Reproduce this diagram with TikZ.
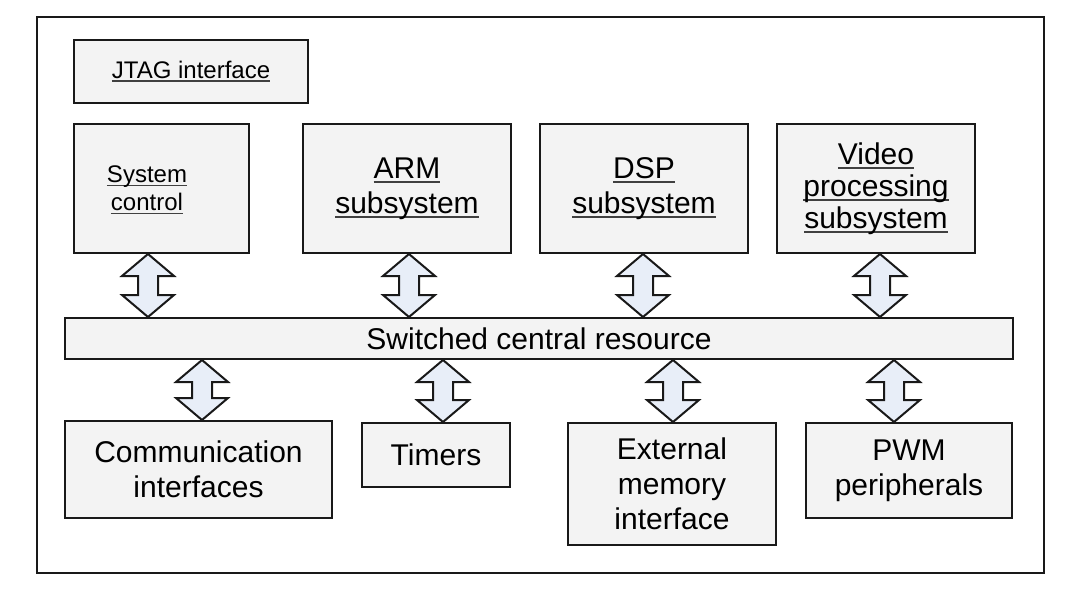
\documentclass[tikz,border=0pt]{standalone}
\usepackage{fontspec}
\setmainfont{Liberation Sans}
\usetikzlibrary{calc}

\definecolor{boxgray}{HTML}{F3F3F3}
\definecolor{arrowblue}{HTML}{E8EEF8}

% underline close to the baseline, as in the linked labels
\newcommand\ulink[1]{\setbox0=\hbox{#1}\rlap{\color{black!75}\vrule height -0.08em depth 0.15em width \wd0}\box0}

% fat two-headed arrow: x position, upper node, lower node
\newcommand\busarrow[3]{%
  \draw[fatarrow] let \p1=(#1,0 |- #2.south), \p2=(#1,0 |- #3.north) in
    (\x1,\y1) -- (\x1+13pt,\y1-11pt) -- (\x1+5pt,\y1-11pt) -- (\x1+5pt,\y2+11pt)
    -- (\x1+13pt,\y2+11pt) -- (\x2,\y2) -- (\x1-13pt,\y2+11pt) -- (\x1-5pt,\y2+11pt)
    -- (\x1-5pt,\y1-11pt) -- (\x1-13pt,\y1-11pt) -- cycle;}

\begin{document}
\begin{tikzpicture}[x=0.5pt, y=-0.5pt,
  block/.style={draw=black!90, line width=1pt, fill=boxgray, align=center, inner sep=2pt},
  small/.style={font=\fontsize{12}{14}\selectfont},
  big/.style={font=\fontsize{15}{17.5}\selectfont},
  fatarrow/.style={draw=black!90, line width=1pt, fill=arrowblue, line join=miter}
]
    \useasboundingbox (0,0) rectangle (1082,605);
    \draw[line width=1pt, black!90] (37,17) rectangle (1044,573);

    \node [block, small, minimum width=117pt, minimum height=31.5pt] (jtag) at (191,71.5) {\ulink{JTAG interface}};

    \node [block, small, minimum width=87.5pt, minimum height=64.5pt] (sysctl) at (161.5,188.5) {};
    \node [small, align=center] (sysctltext) at (147,190) {\ulink{System}\\\ulink{control}};
    \node [block, big, minimum width=104pt, minimum height=64.5pt] (arm) at (407,188.5) {\ulink{ARM}\\\ulink{subsystem}};
    \node [block, big, minimum width=104pt, minimum height=64.5pt] (dsp) at (644,188.5) {\ulink{DSP}\\\ulink{subsystem}};
    \node [block, font=\fontsize{15}{16}\selectfont, minimum width=99pt, minimum height=64.5pt] (video) at (876,188.5) {\ulink{Video}\\\ulink{processing}\\\ulink{subsystem}};

    \node [block, big, minimum width=474pt, minimum height=20.5pt] (bus) at (539,338.5) {Switched central resource};

    \node [block, big, minimum width=133.5pt, minimum height=48.5pt] (comm) at (198.5,469.5) {Communication\\interfaces};
    \node [block, big, minimum width=74pt, minimum height=32pt] (timers) at (436,455) {Timers};
    \node [block, big, minimum width=104pt, minimum height=61pt] (extmem) at (672,484) {External\\memory\\interface};
    \node [block, big, minimum width=103pt, minimum height=47.5pt] (pwm) at (909,470.5) {PWM\\peripherals};

    \busarrow{148}{sysctl}{bus}
    \busarrow{409}{arm}{bus}
    \busarrow{643}{dsp}{bus}
    \busarrow{880}{video}{bus}

    \busarrow{202}{bus}{comm}
    \busarrow{443}{bus}{timers}
    \busarrow{673}{bus}{extmem}
    \busarrow{894}{bus}{pwm}
\end{tikzpicture}
\end{document}
